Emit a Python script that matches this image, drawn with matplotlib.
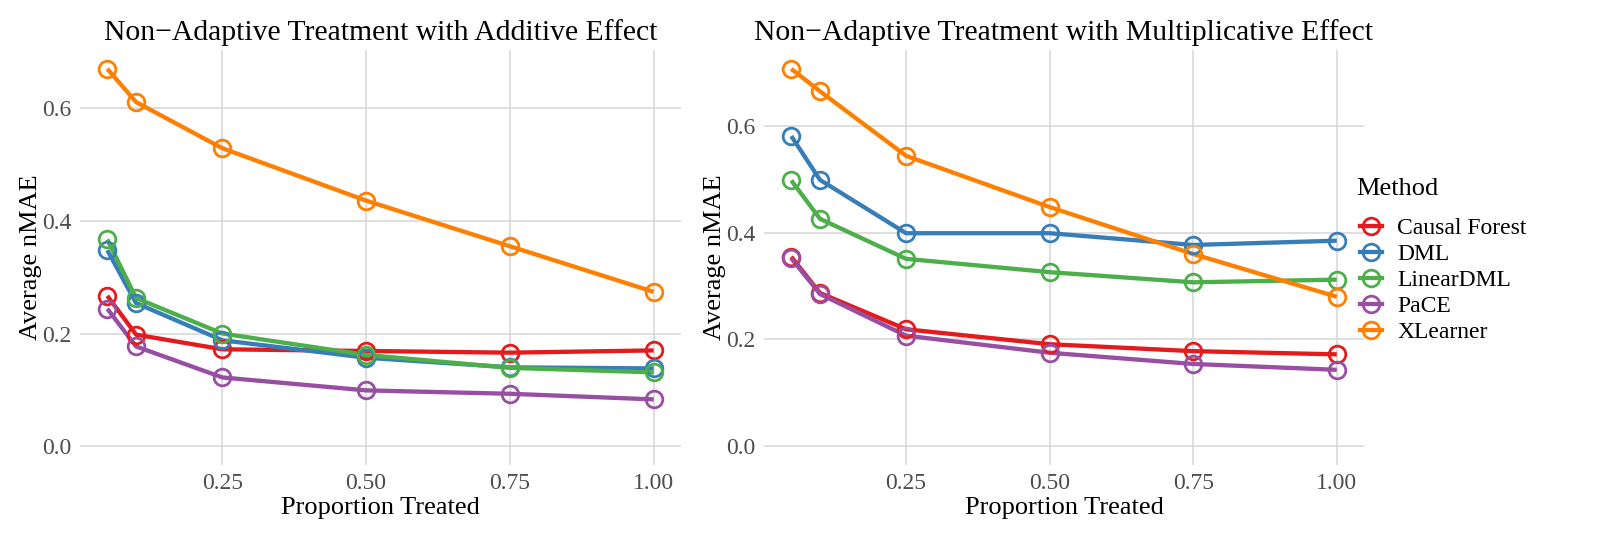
import matplotlib
matplotlib.use("Agg")
import matplotlib.pyplot as plt
from matplotlib.lines import Line2D

plt.rcParams['font.family'] = ['Liberation Serif', 'DejaVu Serif']

# proportion of units treated
prop = [0.05, 0.10, 0.25, 0.50, 0.75, 1.00]
methods = ['Causal Forest', 'DML', 'LinearDML', 'PaCE', 'XLearner']
colors = ['#E41A1C', '#377EB8', '#4DAF4A', '#984EA3', '#FF7F00']

# average nMAE, additive effect
additive = {
    'Causal Forest': [0.267, 0.198, 0.172, 0.169, 0.166, 0.170],
    'DML':           [0.348, 0.254, 0.188, 0.157, 0.140, 0.138],
    'LinearDML':     [0.367, 0.263, 0.200, 0.162, 0.139, 0.131],
    'PaCE':          [0.244, 0.177, 0.122, 0.099, 0.093, 0.083],
    'XLearner':      [0.670, 0.611, 0.529, 0.436, 0.355, 0.274],
}

# average nMAE, multiplicative effect
multiplicative = {
    'Causal Forest': [0.355, 0.287, 0.219, 0.191, 0.178, 0.172],
    'DML':           [0.581, 0.499, 0.399, 0.399, 0.377, 0.385],
    'LinearDML':     [0.498, 0.426, 0.351, 0.326, 0.307, 0.312],
    'PaCE':          [0.352, 0.285, 0.207, 0.175, 0.154, 0.143],
    'XLearner':      [0.707, 0.665, 0.544, 0.448, 0.360, 0.280],
}

titles = ['Non\u2212Adaptive Treatment with Additive Effect',
          'Non\u2212Adaptive Treatment with Multiplicative Effect']
x_ticks = [0.25, 0.50, 0.75, 1.00]
x_labels = ['0.25', '0.50', '0.75', '1.00']
y_ticks = [0.0, 0.2, 0.4, 0.6]
y_labels = ['0.0', '0.2', '0.4', '0.6']

W, H = 1611, 537
fig = plt.figure(figsize=(W / 100, H / 100), dpi=100)
ax1 = fig.add_axes([80 / W, 72 / H, 601 / W, 415 / H])
ax2 = fig.add_axes([764 / W, 72 / H, 600 / W, 415 / H])

grid_col = '#D9D9D9'
LW, MS, MEW = 3.1, 12, 2.0

for ax, data, title in [(ax1, additive, titles[0]), (ax2, multiplicative, titles[1])]:
    # lines first, then the hollow points on top (like ggplot layers)
    for m, c in zip(methods, colors):
        ax.plot(prop, data[m], color=c, lw=LW, solid_capstyle='butt', zorder=2)
    for m, c in zip(methods, colors):
        ax.plot(prop, data[m], ls='none', marker='o', ms=MS, mfc='none',
                mec=c, mew=MEW, zorder=3)

    # ggplot-style 5% expansion, always including 0
    lo = min(0, min(min(v) for v in data.values()))
    hi = max(max(v) for v in data.values())
    pad = (hi - lo) * 0.05
    ax.set_ylim(lo - pad, hi + pad)
    xpad = (prop[-1] - prop[0]) * 0.05
    ax.set_xlim(prop[0] - xpad, prop[-1] + xpad)

    ax.set_xticks(x_ticks)
    ax.set_xticklabels(x_labels)
    ax.set_yticks(y_ticks)
    ax.set_yticklabels(y_labels)
    ax.tick_params(length=0, labelsize=17, labelcolor='#4D4D4D', pad=6)
    ax.grid(True, color=grid_col, lw=1.2)
    ax.set_axisbelow(True)
    for s in ax.spines.values():
        s.set_visible(False)

    ax.set_title(title, fontsize=21.3, pad=7)
    ax.set_xlabel('Proportion Treated', fontsize=19, labelpad=2)
    ax.set_ylabel('Average nMAE', fontsize=19, labelpad=0)

# legend: title drawn separately to get the wider gap seen in ggplot
fig.text(1356 / W, 1 - 189 / H, 'Method', fontsize=19, ha='left', va='center')
handles = [Line2D([0], [0], color=c, lw=LW, marker='o', ms=MS, mfc='none',
                  mec=c, mew=MEW) for c in colors]
fig.legend(handles, methods, loc='upper left', bbox_to_anchor=(1351 / W, 1 - 208 / H),
           frameon=False, fontsize=17, handlelength=0.9, handletextpad=0.65,
           labelspacing=0.19, borderaxespad=0)

fig.savefig('out.png', dpi=100, facecolor='white')
